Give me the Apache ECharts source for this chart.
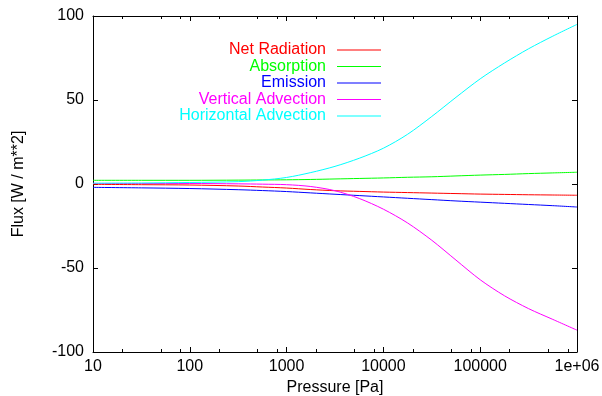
<!DOCTYPE html>
<html>
<head>
<meta charset="utf-8">
<script src="https://cdn.jsdelivr.net/npm/echarts@6/dist/echarts.min.js"></script>
<style>
  html, body { margin: 0; padding: 0; background: #fff; }
  #chart { width: 602px; height: 396px; }
</style>
</head>
<body>
<div id="chart"></div>
<script>
// Pressure levels [Pa] (log-spaced)
const pressure = [10, 31.62, 100, 316.2, 562.3, 1000, 1778, 3162, 5623, 10000, 17783, 31623, 56234, 100000, 177828, 316228, 562341, 1000000];

// Flux terms [W / m**2]
const netRadiation        = [-0.2, -0.4, -0.6, -1.2, -1.8, -2.4, -3.3, -4.0, -4.4, -4.8, -5.1, -5.4, -5.7, -6.0, -6.2, -6.4, -6.55, -6.7];
const absorption          = [2.2, 2.2, 2.2, 2.3, 2.4, 2.5, 2.7, 3.0, 3.3, 3.6, 4.0, 4.3, 4.8, 5.3, 5.7, 6.2, 6.6, 7.0];
const emission            = [-2.0, -2.3, -2.7, -3.4, -3.9, -4.5, -5.3, -6.1, -6.9, -7.7, -8.5, -9.3, -10.1, -10.8, -11.5, -12.2, -12.9, -13.7];
const verticalAdvection   = [0.3, 0.3, 0.3, 0.1, -0.1, -0.4, -1.5, -4.0, -8.6, -15.0, -23.2, -33.5, -45.3, -57.0, -66.5, -74.2, -80.6, -87.0];
const horizontalAdvection = [0.5, 0.6, 0.9, 1.4, 2.3, 3.9, 6.8, 10.5, 15.3, 21.3, 29.6, 40.2, 51.6, 62.6, 72.0, 80.5, 88.0, 95.0];

// Axis ticks
const xMajorTicks = [10, 100, 1000, 10000, 100000, 1000000];
const xTickLabels = ['10', '100', '1000', '10000', '100000', '1e+06'];
const xMinorTicks = [20, 50, 80, 200, 500, 800, 2000, 5000, 8000, 20000, 50000, 80000, 200000, 500000, 800000];
const yTicks = [-100, -50, 0, 50, 100];

const seriesDefs = [
  { name: 'Net Radiation',        color: '#ff0000', values: netRadiation },
  { name: 'Absorption',           color: '#00ff00', values: absorption },
  { name: 'Emission',             color: '#0000ff', values: emission },
  { name: 'Vertical Advection',   color: '#ff00ff', values: verticalAdvection },
  { name: 'Horizontal Advection', color: '#00ffff', values: horizontalAdvection }
];

const FONT = '"Liberation Sans", Arial, Helvetica, sans-serif';
const AXIS_COLOR = '#000';

const chart = echarts.init(document.getElementById('chart'), null, { renderer: 'canvas' });

function labelFor(v) {
  const i = xMajorTicks.findIndex(t => Math.abs(Math.log10(t) - Math.log10(v)) < 1e-6);
  return i >= 0 ? xTickLabels[i] : '';
}

const lineSeries = seriesDefs.map(d => ({
  name: d.name,
  type: 'line',
  xAxisIndex: 0,
  yAxisIndex: 0,
  data: pressure.map((p, i) => [p, d.values[i]]),
  showSymbol: false,
  symbol: 'none',
  smooth: 0.3,
  color: d.color,
  lineStyle: { color: d.color, width: 1 },
  itemStyle: { color: d.color },
  emphasis: { disabled: true },
  animation: false
}));

// Minor log ticks on bottom and top frame edges
const minorTickSeries = {
  name: 'minor ticks',
  type: 'custom',
  xAxisIndex: 0,
  yAxisIndex: 0,
  silent: true,
  animation: false,
  clip: false,
  data: xMinorTicks.map(p => [p, 0]),
  encode: { x: 0, y: 1 },
  renderItem: function (params, api) {
    const p = api.value(0);
    const b = api.coord([p, yTicks[0]]);
    const t = api.coord([p, yTicks[yTicks.length - 1]]);
    const x = Math.round(b[0]) + 0.5;
    return {
      type: 'group',
      children: [
        { type: 'line', shape: { x1: x, y1: b[1], x2: x, y2: b[1] - 3 }, style: { stroke: AXIS_COLOR, lineWidth: 1 } },
        { type: 'line', shape: { x1: x, y1: t[1], x2: x, y2: t[1] + 3 }, style: { stroke: AXIS_COLOR, lineWidth: 1 } }
      ]
    };
  }
};

const option = {
  backgroundColor: '#fff',
  animation: false,
  textStyle: { fontFamily: FONT },
  grid: {
    left: 93, right: 25, top: 16, bottom: 44,
    containLabel: false,
    outerBoundsMode: 'none'
  },
  legend: {
    data: seriesDefs.map(d => ({
      name: d.name,
      icon: 'rect',
      itemStyle: { color: d.color, borderWidth: 0 },
      lineStyle: { color: d.color, width: 0 },
      textStyle: { color: d.color }
    })),
    orient: 'vertical',
    align: 'right',
    right: 221,
    top: 42,
    padding: 0,
    itemGap: 0.5,
    itemWidth: 44,
    itemHeight: 1,
    selectedMode: false,
    textStyle: { fontFamily: FONT, fontSize: 16, lineHeight: 16, padding: [0, 6, 0, 0] }
  },
  xAxis: [
    {
      type: 'log',
      logBase: 10,
      min: 10,
      max: 1000000,
      position: 'bottom',
      name: 'Pressure [Pa]',
      nameLocation: 'middle',
      nameGap: 22,
      nameTextStyle: { color: '#000', fontSize: 16, fontFamily: FONT },
      axisLine: { show: true, onZero: false, lineStyle: { color: AXIS_COLOR, width: 1 } },
      axisTick: { show: true, inside: true, length: 5, lineStyle: { color: AXIS_COLOR } },
      axisLabel: {
        show: true, margin: 7, color: '#000', fontSize: 16, fontFamily: FONT,
        showMinLabel: true, showMaxLabel: true,
        formatter: v => labelFor(v)
      },
      splitLine: { show: false }
    },
    {
      type: 'log',
      logBase: 10,
      min: 10,
      max: 1000000,
      position: 'top',
      axisLine: { show: true, onZero: false, lineStyle: { color: AXIS_COLOR, width: 1 } },
      axisTick: { show: true, inside: true, length: 5, lineStyle: { color: AXIS_COLOR } },
      axisLabel: { show: false },
      splitLine: { show: false }
    }
  ],
  yAxis: [
    {
      type: 'value',
      min: -100,
      max: 100,
      interval: 50,
      position: 'left',
      name: 'Flux [W / m**2]',
      nameLocation: 'middle',
      nameGap: 66,
      nameRotate: 90,
      nameTextStyle: { color: '#000', fontSize: 16, fontFamily: FONT },
      axisLine: { show: true, onZero: false, lineStyle: { color: AXIS_COLOR, width: 1 } },
      axisTick: { show: true, inside: true, length: 5, lineStyle: { color: AXIS_COLOR } },
      axisLabel: { show: true, margin: 9, color: '#000', fontSize: 16, fontFamily: FONT },
      splitLine: { show: false }
    },
    {
      type: 'value',
      min: -100,
      max: 100,
      interval: 50,
      position: 'right',
      axisLine: { show: true, onZero: false, lineStyle: { color: AXIS_COLOR, width: 1 } },
      axisTick: { show: true, inside: true, length: 5, lineStyle: { color: AXIS_COLOR } },
      axisLabel: { show: false },
      splitLine: { show: false }
    }
  ],
  series: lineSeries.concat([minorTickSeries])
};

chart.setOption(option);
</script>
</body>
</html>
